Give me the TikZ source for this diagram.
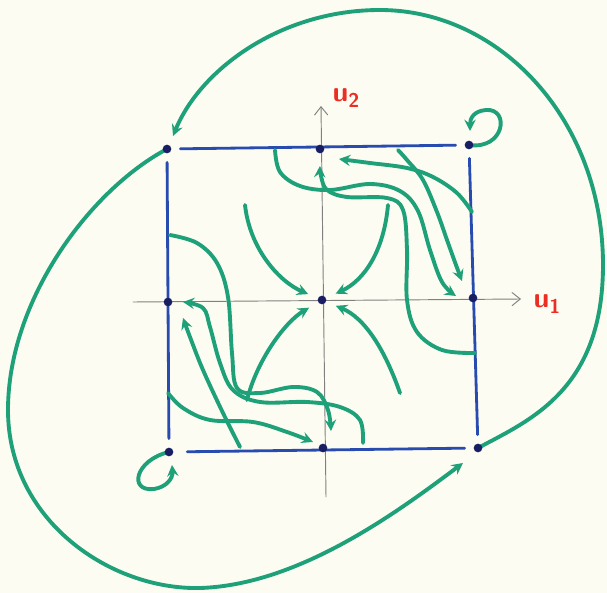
\documentclass[tikz,border=0pt]{standalone}
\usetikzlibrary{arrows.meta}
\definecolor{flowgreen}{RGB}{30,160,120}
\definecolor{edgeblue}{RGB}{40,75,175}
\definecolor{dotblue}{RGB}{25,30,100}
\definecolor{paper}{RGB}{252,252,242}
\definecolor{labelred}{RGB}{235,45,35}
\begin{document}
\begin{tikzpicture}[x=0.03cm,y=-0.03cm,line join=round,line cap=round,
		>={Stealth[length=3.4mm,width=3.4mm,inset=1.2mm]},
		flow/.style={draw=flowgreen,line width=3.3pt},
		edge/.style={draw=edgeblue,line width=2.4pt,shorten <=0.4cm,shorten >=0.4cm},
		axis/.style={draw=black!50,line width=0.8pt,-{Straight Barb[length=2.5mm,width=4mm]}},
		fix/.style={circle,fill=dotblue,inner sep=0pt,minimum size=2.6mm},
		lab/.style={text=labelred,font=\fontsize{24}{28}\selectfont\sffamily\bfseries}]
	\fill[paper] (0,0) rectangle (607,593);
	\useasboundingbox (0,0) rectangle (607,593);
	\coordinate (nw) at (167,149);  \coordinate (n) at (320,149);  \coordinate (ne) at (469,145);
	\coordinate (w) at (168,302);   \coordinate (c) at (322,300);  \coordinate (e) at (473,298);
	\coordinate (sw) at (169,452);  \coordinate (s) at (323,448);  \coordinate (se) at (478,448);
	\coordinate (xl) at (133,302);  \coordinate (xr) at (521,299);
	\coordinate (yb) at (326,497);  \coordinate (yt) at (321,106);
	\draw[axis] (xl)--(xr);
	\draw[axis] (yb)--(yt);
	\node[lab] (u1) at (547,304) {u\raisebox{-0.45ex}{\fontsize{17}{20}\selectfont 1}};
	\node[lab] (u2) at (346,98) {u\raisebox{-0.45ex}{\fontsize{17}{20}\selectfont 2}};
	\draw[edge] (nw)--(ne);
	\draw[edge] (ne)--(se);
	\draw[edge,shorten <=0.55cm] (sw)--(se);
	\draw[edge] (nw)--(sw);
	% flows into the centre
	\coordinate (a1) at (245,205);  \coordinate (a2) at (388,205);
	\coordinate (a3) at (247,400);  \coordinate (a4) at (400,393);
	\draw[flow,->,shorten >=0.45cm] (a1) .. controls (250,250) and (280,282) .. (c);
	\draw[flow,->,shorten >=0.45cm] (a2) .. controls (384,250) and (365,280) .. (c);
	\draw[flow,->,shorten >=0.45cm] (a3) .. controls (257,360) and (285,322) .. (c);
	\draw[flow,->,shorten >=0.45cm] (a4) .. controls (385,350) and (365,318) .. (c);
	% upper right
	\draw[flow,->] plot[smooth,tension=0.6] coordinates {(275,150) (280,172) (300,186) (330,190) (370,184) (400,191) (418,211) (430,250) (442,282) (456,296)};
	\draw[flow,->] plot[smooth,tension=0.6] coordinates {(398,150) (407,160) (423,180) (437,212) (447,240) (456,265) (462,281)};
	\draw[flow,->] plot[smooth,tension=0.6] coordinates {(472,212) (457,193) (433,177) (407,168) (370,163) (339,159)};
	\draw[flow,->] plot[smooth,tension=0.6] coordinates {(475,353) (442,350) (417,332) (407,300) (407,250) (403,210) (387,198) (347,197) (327,190) (321,176) (320,166)};
	% lower left
	\draw[flow,->] plot[smooth,tension=0.6] coordinates {(170,235) (197,243) (217,263) (228,297) (232,353) (237,388) (260,393) (293,387) (317,392) (328,410) (331,431)};
	\draw[flow,->] plot[smooth,tension=0.6] coordinates {(363,443) (360,420) (340,407) (307,402) (260,402) (233,390) (220,363) (210,327) (203,308) (183,302)};
	\draw[flow,->] plot[smooth,tension=0.6] coordinates {(240,447) (223,413) (203,370) (190,337) (183,318)};
	\draw[flow,->] plot[smooth,tension=0.6] coordinates {(168,393) (183,408) (210,420) (253,422) (287,432) (313,442)};
	% corners
	\draw[flow,->] (ne) .. controls (505,150) and (510,108) .. (486,110) .. controls (474,111) and (470,118) .. (470,131);
	\draw[flow,->] (sw) .. controls (135,460) and (128,492) .. (154,489) .. controls (167,487) and (173,478) .. (172,465);
	\draw[flow,->] (se) .. controls (530,420) and (603,390) .. (603,265) .. controls (603,120) and (500,10) .. (380,10) .. controls (280,10) and (200,70) .. (173,136);
	\draw[flow,->] (nw) .. controls (90,190) and (8,300) .. (8,410) .. controls (8,520) and (110,590) .. (200,588) .. controls (300,585) and (400,510) .. (463,463);
	\foreach \p in {nw,n,ne,w,c,e,sw,s,se}
		\node[fix] at (\p) {};
\end{tikzpicture}
\end{document}
